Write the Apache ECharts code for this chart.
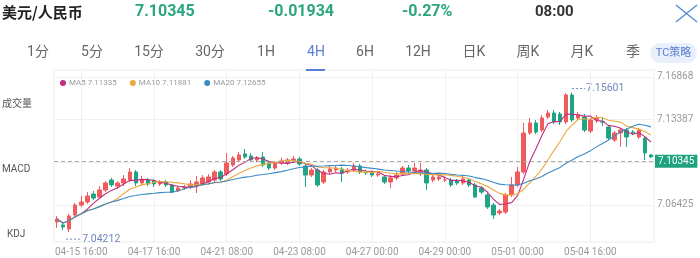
<!DOCTYPE html>
<html><head><meta charset="utf-8">
<script src="https://cdn.jsdelivr.net/npm/echarts@6/dist/echarts.min.js"></script>
<style>html,body{margin:0;padding:0;background:#fff}#c{width:700px;height:258px}</style>
</head><body><div id="c"></div>
<script>
const categories = ['04-15 00:00','04-15 04:00','04-15 08:00','04-15 12:00','04-15 16:00','04-15 20:00','04-16 00:00','04-16 04:00','04-16 08:00','04-16 12:00','04-16 16:00','04-16 20:00','04-17 00:00','04-17 04:00','04-17 08:00','04-17 12:00','04-17 16:00','04-17 20:00','04-18 00:00','04-18 04:00','04-18 08:00','04-18 12:00','04-18 16:00','04-18 20:00','04-20 16:00','04-20 20:00','04-21 00:00','04-21 04:00','04-21 08:00','04-21 12:00','04-21 16:00','04-21 20:00','04-22 00:00','04-22 04:00','04-22 08:00','04-22 12:00','04-22 16:00','04-22 20:00','04-23 00:00','04-23 04:00','04-23 08:00','04-23 12:00','04-23 16:00','04-23 20:00','04-24 00:00','04-24 04:00','04-24 08:00','04-24 12:00','04-24 16:00','04-24 20:00','04-25 00:00','04-25 04:00','04-27 00:00','04-27 04:00','04-27 08:00','04-27 12:00','04-27 16:00','04-27 20:00','04-28 00:00','04-28 04:00','04-28 08:00','04-28 12:00','04-28 16:00','04-28 20:00','04-29 00:00','04-29 04:00','04-29 08:00','04-29 12:00','04-29 16:00','04-29 20:00','04-30 00:00','04-30 04:00','04-30 08:00','04-30 12:00','04-30 16:00','04-30 20:00','05-01 00:00','05-01 04:00','05-01 08:00','05-01 12:00','05-01 16:00','05-01 20:00','05-02 00:00','05-02 04:00','05-02 08:00','05-02 12:00','05-04 08:00','05-04 12:00','05-04 16:00','05-04 20:00','05-05 00:00','05-05 04:00','05-05 08:00','05-05 12:00','05-05 16:00','05-05 20:00','05-06 00:00','05-06 04:00','05-06 08:00'];

const opens  = [7.0504,7.0479,7.0447,7.0561,7.0642,7.0667,7.0732,7.0708,7.0765,7.0846,7.0797,7.0822,7.0846,7.0912,7.0822,7.0846,7.0838,7.0814,7.0830,7.0806,7.0757,7.0781,7.0789,7.0797,7.0814,7.0830,7.0846,7.0912,7.0895,7.0969,7.1010,7.1059,7.1042,7.1010,7.1034,7.0985,7.0944,7.0985,7.0985,7.1002,7.1018,7.0961,7.0887,7.0928,7.0830,7.0912,7.0928,7.0936,7.0912,7.0928,7.0961,7.0912,7.0904,7.0887,7.0871,7.0830,7.0863,7.0895,7.0944,7.0920,7.0912,7.0928,7.0846,7.0855,7.0846,7.0846,7.0838,7.0822,7.0846,7.0806,7.0781,7.0724,7.0642,7.0577,7.0585,7.0724,7.0806,7.0912,7.1230,7.1312,7.1254,7.1360,7.1393,7.1385,7.1320,7.1540,7.1352,7.1360,7.1246,7.1336,7.1320,7.1279,7.1173,7.1230,7.1254,7.1238,7.1197,7.1189,7.1051];
const closes = [7.0528,7.0463,7.0553,7.0642,7.0667,7.0716,7.0699,7.0765,7.0822,7.0806,7.0822,7.0855,7.0912,7.0822,7.0846,7.0814,7.0814,7.0830,7.0806,7.0748,7.0781,7.0789,7.0814,7.0830,7.0863,7.0871,7.0912,7.0855,7.0985,7.1026,7.1051,7.1034,7.1010,7.1026,7.0969,7.0944,7.0985,7.1002,7.1010,7.1018,7.0977,7.0887,7.0928,7.0806,7.0912,7.0936,7.0944,7.0904,7.0920,7.0961,7.0912,7.0904,7.0887,7.0895,7.0830,7.0863,7.0887,7.0944,7.0920,7.0944,7.0928,7.0822,7.0871,7.0871,7.0847,7.0806,7.0822,7.0855,7.0806,7.0708,7.0748,7.0626,7.0561,7.0593,7.0724,7.0806,7.0912,7.1230,7.1312,7.1238,7.1352,7.1393,7.1320,7.1320,7.1540,7.1336,7.1377,7.1254,7.1336,7.1352,7.1319,7.1189,7.1230,7.1254,7.1197,7.1230,7.1254,7.1067,7.10345];
const lows   = [7.0455,7.0438,7.04212,7.0544,7.0626,7.0651,7.0683,7.0691,7.0748,7.0789,7.0773,7.0797,7.0830,7.0797,7.0806,7.0797,7.0789,7.0797,7.0789,7.0740,7.0748,7.0765,7.0773,7.0740,7.0797,7.0806,7.0830,7.0838,7.0879,7.0953,7.0993,7.1018,7.0993,7.0993,7.0953,7.0928,7.0928,7.0969,7.0969,7.0985,7.0961,7.0789,7.0871,7.0789,7.0814,7.0895,7.0912,7.0830,7.0895,7.0912,7.0895,7.0887,7.0871,7.0871,7.0814,7.0781,7.0846,7.0879,7.0904,7.0904,7.0879,7.0765,7.0830,7.0838,7.0830,7.0789,7.0806,7.0806,7.0789,7.0699,7.0732,7.0610,7.0528,7.0561,7.0569,7.0708,7.0789,7.0895,7.1214,7.1222,7.1238,7.1344,7.1303,7.1295,7.1303,7.1320,7.1336,7.1238,7.1230,7.1311,7.1287,7.1173,7.1156,7.1116,7.1116,7.1214,7.1181,7.1010,7.1026];
const highs  = [7.0553,7.0504,7.0569,7.0659,7.0716,7.0748,7.0757,7.0797,7.0838,7.0863,7.0838,7.0887,7.0944,7.0928,7.0879,7.0863,7.0855,7.0846,7.0846,7.0814,7.0797,7.0806,7.0846,7.0879,7.0887,7.0895,7.0928,7.0928,7.1067,7.1042,7.1075,7.1100,7.1067,7.1042,7.1075,7.1002,7.1002,7.1026,7.1026,7.1042,7.1034,7.0977,7.0944,7.0944,7.0928,7.0969,7.0961,7.0953,7.0944,7.0985,7.0977,7.0928,7.0920,7.0912,7.0887,7.0887,7.0912,7.0961,7.0969,7.0985,7.0985,7.0944,7.0895,7.0887,7.0871,7.0863,7.0855,7.0879,7.0863,7.0822,7.0797,7.0740,7.0659,7.0610,7.0740,7.0871,7.0953,7.1312,7.1352,7.1336,7.1377,7.1418,7.1418,7.1401,7.1556,7.15601,7.1401,7.1385,7.1352,7.1377,7.1360,7.1295,7.1246,7.1271,7.1271,7.1254,7.1271,7.1205,7.1059];

const maNames = ['MA5','MA10','MA20'];
const maPeriods = [5,10,20];
const maLegendValues = ['7.11335','7.11881','7.12655'];
const yTickValues = [7.06425, 7.09906, 7.13387, 7.16868];
const lastPrice = 7.10345;
const maxPrice = 7.15601, maxIndex = 85;
const minPrice = 7.04212, minIndex = 2;

const UP = '#f15b5b', DOWN = '#1fa583';
const maColors = ['#bf2f80','#eaa93c','#3a8bc4'];
const FONT = 'Roboto, "Noto Sans", "Noto Sans CJK SC", sans-serif';

function movingAvg(n){
  return closes.map((_, i) => {
    const s = Math.max(0, i - n + 1);
    let sum = 0;
    for (let k = s; k <= i; k++) sum += closes[k];
    return +(sum / (i - s + 1)).toFixed(5);
  });
}

const candleData = opens.map((o, i) => [o, closes[i], lows[i], highs[i]]);
const labelEvery = (i) => i % 12 === 4;

const chart = echarts.init(document.getElementById('c'), null, {renderer: 'canvas'});

const tabs = [['1分',38],['5分',92],['15分',149],['30分',210],['1H',266],['4H',316],['6H',365],['12H',418],['日K',474],['周K',528],['月K',582],['季',633]];

const graphics = [
  {type:'text', left:2, top:5, style:{text:'美元/人民币', font:'bold 15px "Noto Sans CJK SC", sans-serif', fill:'#222'}},
  {type:'text', left:135, top:4, style:{text:'7.10345', font:'bold 16px '+FONT, fill:'#2aa57f'}},
  {type:'text', left:268, top:4, style:{text:'-0.01934', font:'bold 16px '+FONT, fill:'#2aa57f'}},
  {type:'text', left:402, top:4, style:{text:'-0.27%', font:'bold 16px '+FONT, fill:'#2aa57f'}},
  {type:'text', left:535, top:5, style:{text:'08:00', font:'bold 15px '+FONT, fill:'#333'}},
  {type:'line', shape:{x1:676,y1:5,x2:697,y2:22}, style:{stroke:'#5b8fd6', lineWidth:1.5}},
  {type:'line', shape:{x1:697,y1:5,x2:676,y2:22}, style:{stroke:'#5b8fd6', lineWidth:1.5}},
  {type:'rect', shape:{x:650,y:43,width:47,height:20,r:10}, style:{fill:'#e9effb'}},
  {type:'text', x:673.5, y:53, style:{text:'TC策略', font:'11px '+FONT, fill:'#5a7fd6', align:'center', verticalAlign:'middle'}},
  {type:'rect', shape:{x:306,y:69,width:19,height:2}, style:{fill:'#5a7fd6'}},
  {type:'text', left:2, top:98, style:{text:'成交量', font:'10px "Noto Sans CJK SC", sans-serif', fill:'#555'}},
  {type:'text', left:2, top:164, style:{text:'MACD', font:'10px '+FONT, fill:'#555'}},
  {type:'text', left:7, top:229, style:{text:'KDJ', font:'10px '+FONT, fill:'#555'}}
];
tabs.forEach(([t, x]) => graphics.push({type:'text', x:x, y:52, style:{text:t, font:'14px '+FONT, fill: t==='4H' ? '#5a7fd6' : '#666', align:'center', verticalAlign:'middle'}}));

const maSeries = maNames.map((name, k) => ({
  name, type:'line', data: movingAvg(maPeriods[k]), symbol:'none', smooth:false,
  lineStyle:{width:1.1, color:maColors[k]}, itemStyle:{color:maColors[k]}, z:3, silent:true
}));

chart.setOption({
  animation:false,
  backgroundColor:'#fff',
  textStyle:{fontFamily:FONT},
  grid:{left:54, right:46, top:70, bottom:16, show:true, borderColor:'#ececec', borderWidth:1},
  legend:{
    data:maNames, left:55, top:74, icon:'circle', itemWidth:6, itemHeight:6, itemGap:13,
    textStyle:{fontSize:8, color:'#9a9a9a', fontFamily:FONT, padding:[0,0,0,-2]},
    formatter:(n) => n + ' ' + maLegendValues[maNames.indexOf(n)],
    selectedMode:false
  },
  xAxis:{
    type:'category', data:categories, boundaryGap:true,
    axisLine:{show:false}, axisTick:{show:false},
    axisLabel:{interval:(i)=>labelEvery(i), color:'#999', fontSize:10, margin:5, fontFamily:FONT},
    splitLine:{show:true, interval:(i)=>labelEvery(i), alignWithLabel:true, lineStyle:{color:'#f0f0f0', width:1}}
  },
  yAxis:{
    type:'value', position:'right', scale:true,
    min:7.03405, max:7.17439,
    axisLine:{show:false},
    axisTick:{show:false, customValues:yTickValues},
    axisLabel:{customValues:yTickValues, formatter:(v)=>v.toFixed(5), color:'#999', fontSize:10, margin:3, fontFamily:FONT},
    splitLine:{show:true, lineStyle:{color:'#f0f0f0', width:1}}
  },
  series:[
    {
      name:'K', type:'candlestick', data:candleData, barWidth:4,
      itemStyle:{color:UP, color0:DOWN, borderColor:UP, borderColor0:DOWN, borderWidth:1},
      markLine:{
        silent:true, symbol:['none','none'],
        lineStyle:{type:[4,3], color:'#aaa', width:1},
        label:{position:'end', distance:1, formatter:()=>lastPrice.toFixed(5), backgroundColor:'#1fa37e', color:'#fff', fontSize:10, padding:[2,3,1,3], fontFamily:FONT},
        data:[{yAxis:lastPrice}], z:10
      },
      z:2
    },
    ...maSeries
  ],
  graphic:graphics
});

// extreme-value markers placed through the chart's own scales
const pMax = chart.convertToPixel({xAxisIndex:0, yAxisIndex:0}, [maxIndex, maxPrice]);
const pMin = chart.convertToPixel({xAxisIndex:0, yAxisIndex:0}, [minIndex, minPrice]);
const markerColor = '#6f87bd';
graphics.push(
  {type:'line', shape:{x1:pMax[0], y1:pMax[1]-4, x2:pMax[0]+13, y2:pMax[1]-4}, style:{stroke:markerColor, lineWidth:1, lineDash:[2,2]}},
  {type:'text', x:pMax[0]+14, y:pMax[1]-4, style:{text:maxPrice.toFixed(5), font:'10.5px '+FONT, fill:markerColor, verticalAlign:'middle'}},
  {type:'line', shape:{x1:pMin[0]-3, y1:pMin[1]+7, x2:pMin[0]+11, y2:pMin[1]+7}, style:{stroke:markerColor, lineWidth:1, lineDash:[2,2]}},
  {type:'text', x:pMin[0]+13, y:pMin[1]+7, style:{text:minPrice.toFixed(5), font:'10.5px '+FONT, fill:markerColor, verticalAlign:'middle'}}
);
chart.setOption({graphic:graphics});
</script>
</body></html>
